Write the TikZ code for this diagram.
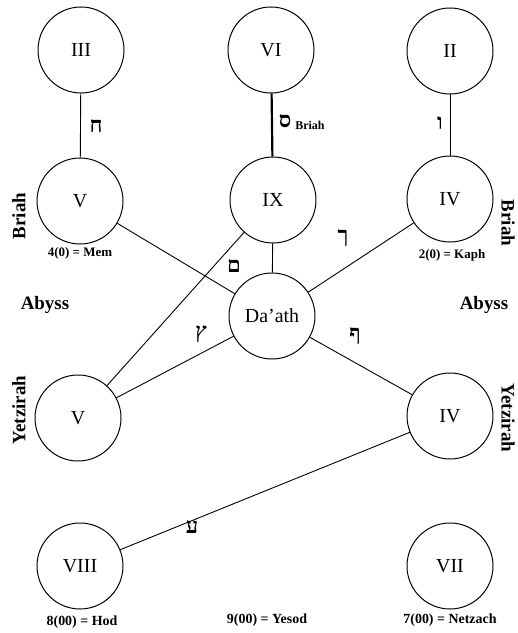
\documentclass[tikz,border=0pt]{standalone}
\usepackage{fontspec}
\setmainfont{Liberation Serif}
\newfontfamily\hebfont[Script=Hebrew]{Liberation Serif}
\TeXXeTstate=1

\begin{document}
\begin{tikzpicture}[x=1bp, y=-1bp,
    sephira/.style={circle, draw, line width=1pt, minimum size=86bp,
      inner sep=0pt, font=\fontsize{20}{24}\selectfont},
    world/.style={font=\fontsize{19}{22}\selectfont\bfseries},
    tag/.style={font=\fontsize{13}{15}\selectfont\bfseries},
    lowtag/.style={font=\fontsize{14}{16}\selectfont\bfseries},
    conn/.style={line width=0.9pt}]
  \useasboundingbox (0,0) rectangle (518,633);
  % --- Helper: \letter{name}{position}{glyph} ---
  % Puts one Hebrew letter beside the path it belongs to.
  \newcommand{\letter}[3]{%
    \node[font=\fontsize{22}{24}\hebfont\bfseries] (#1) at (#2) {\beginR #3\endR};}
  % Sephiroth, row by row.
  \node[sephira] (iii)     at (81,50)   {III};
  \node[sephira] (vi)      at (271,50)  {VI};
  \node[sephira] (ii)      at (450,51)  {II};
  \node[sephira] (vbriah)  at (80,201)  {V};
  \node[sephira] (ix)      at (273,200) {IX};
  \node[sephira] (ivbriah) at (450,199) {IV};
  \node[sephira] (daath)   at (272,316) {Da'ath};
  \node[sephira] (vyetz)   at (78,418)  {V};
  \node[sephira] (ivyetz)  at (450,416) {IV};
  \node[sephira] (viii)    at (80,566)  {VIII};
  \node[sephira] (vii)     at (450,566) {VII};
  % Paths.
  \draw[conn] (iii) -- (vbriah);
  \draw[conn, line width=2.2pt] (vi) -- (ix);
  \draw[conn] (ii) -- (ivbriah);
  \draw[conn] (vbriah) -- (daath);
  \draw[conn] (ix) -- (daath);
  \draw[conn] (ivbriah) -- (daath);
  \draw[conn] (ix) -- (vyetz);
  \draw[conn] (daath) -- (vyetz);
  \draw[conn] (daath) -- (ivyetz);
  \draw[conn] (ivyetz) -- (viii);
  % Letters on the paths.
  \letter{cheth}{96,126}{ח}
  \letter{vau}{440,123}{ו}
  \letter{samekh}{285,121}{ס}
  \node[font=\fontsize{12}{14}\selectfont\bfseries, anchor=west]
    (samekhbriah) at (samekh.east) [yshift=-4bp, xshift=-3bp] {Briah};
  \letter{mem}{234,266}{ם}
  \letter{kaph}{343,238}{ך}
  \letter{tzaddi}{201,334}{ץ}
  \letter{pe}{355,336}{ף}
  \letter{ayin}{192,527}{ע}
  % Worlds and the Abyss.
  \node[world, rotate=90]  (briahl) at (19,216)  {Briah};
  \node[world, rotate=-90] (briahr) at (508,223) {Briah};
  \node[world] (abyssl) at (45,305)  {Abyss};
  \node[world] (abyssr) at (484,305) {Abyss};
  \node[world, rotate=90]  (yetzl) at (19,410)  {Yetzirah};
  \node[world, rotate=-90] (yetzr) at (508,418) {Yetzirah};
  % Numbers under the sephiroth.
  \node[tag] (memtag)  at (80,253)  {4(0) = Mem};
  \node[tag] (kaphtag) at (452,255) {2(0) = Kaph};
  \node[lowtag] (hodtag)     at (82,622)  {8(00) = Hod};
  \node[lowtag] (yesodtag)   at (267,620) {9(00) = Yesod};
  \node[lowtag] (netzachtag) at (450,620) {7(00) = Netzach};
\end{tikzpicture}
\end{document}
